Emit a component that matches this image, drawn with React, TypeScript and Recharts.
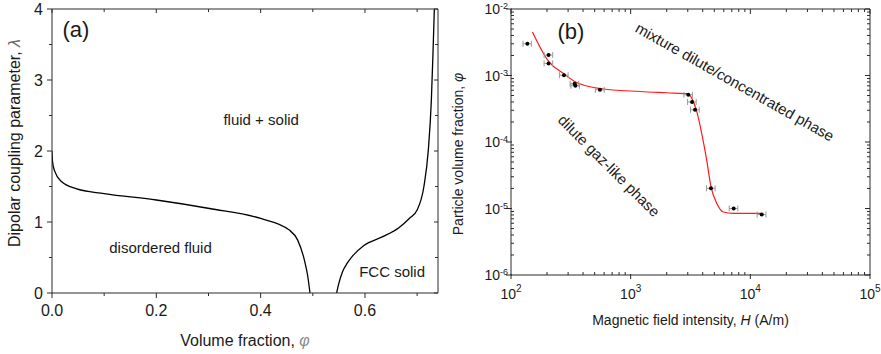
import React from 'react';
import {LineChart, Line, ComposedChart, Scatter, ErrorBar, XAxis, YAxis, ReferenceDot, Label} from 'recharts';

const FONT = '"Liberation Sans", Arial, sans-serif';
const INK = '#1a1a1a';
const AXIS = '#2b2b2b';

// ---- panel (a): phase diagram lambda vs volume fraction ----
const freezePhi = [0, 0.001, 0.005, 0.018, 0.046, 0.1, 0.2, 0.302, 0.4, 0.455, 0.471, 0.484, 0.49, 0.4946];
const freezeLam = [2.0, 1.85, 1.72, 1.57, 1.47, 1.4, 1.31, 1.19, 1.05, 0.886, 0.745, 0.46, 0.25, 0];
const meltPhi = [0.5456, 0.55, 0.557, 0.566, 0.576, 0.598, 0.633, 0.665, 0.685, 0.7, 0.713, 0.7215, 0.7273, 0.7305, 0.733];
const meltLam = [0, 0.14, 0.3, 0.42, 0.52, 0.67, 0.79, 0.92, 1.05, 1.17, 1.5, 2.02, 2.72, 3.4, 4.0];
const phiTicksA = [0, 0.1, 0.2, 0.3, 0.4, 0.5, 0.6, 0.7];
const phiLabelsA = ['0.0', '', '0.2', '', '0.4', '', '0.6', ''];
const lamTicksA = [0, 0.5, 1, 1.5, 2, 2.5, 3, 3.5, 4];
const lamLabelsA = ['0', '', '1', '', '2', '', '3', '', '4'];

// ---- panel (b): particle volume fraction vs field ----
const hMeas = [137, 206, 206, 277, 340, 345, 554, 3033, 3258, 3451, 4690, 7258, 12450];
const phiMeas = [3.0e-3, 2.03e-3, 1.52e-3, 1.01e-3, 7.5e-4, 7.0e-4, 6.1e-4, 5.13e-4, 4.0e-4, 3.05e-4, 2.01e-5, 1.0e-5, 8.1e-6];
const hErr = [11, 17, 17, 23, 28, 28, 47, 250, 270, 290, 390, 600, 1050];
const fitH = [151, 206, 277, 340, 554, 1197, 2000, 3033, 3236, 3565, 3918, 4315, 4690, 5236, 5948, 7190, 12450];
const fitPhi = [4.5e-3, 1.63e-3, 1.06e-3, 8.15e-4, 6.38e-4, 5.75e-4, 5.5e-4, 5.31e-4, 4.57e-4, 2.88e-4, 1.36e-4, 5.4e-5, 2.13e-5, 1.2e-5, 8.87e-6, 8.47e-6, 8.47e-6];
const hDecades = [100, 1000, 10000, 100000];
const hDecadeLabels = ['2', '3', '4', '5'];
const phiDecades = [1e-6, 1e-5, 1e-4, 1e-3, 1e-2];
const phiDecadeLabels = ['-6', '-5', '-4', '-3', '-2'];

const freezeData = freezePhi.map((phi, i) => ({phi, lam: freezeLam[i]}));
const meltData = meltPhi.map((phi, i) => ({phi, lam: meltLam[i]}));
const measData = hMeas.map((h, i) => ({h, phi: phiMeas[i], err: hErr[i]}));
const fitData = fitH.map((h, i) => ({h, phi: fitPhi[i]}));

const withMinors = (decades: number[]) => {
    const out: number[] = [];
    decades.forEach((d, i) => {
        out.push(d);
        if (i < decades.length - 1) for (let m = 2; m <= 9; m++) out.push(d * m);
    });
    return out;
};
const hTicksB = withMinors(hDecades);
const phiTicksB = withMinors(phiDecades);
const decadeIdx = (list: number[], v: number) => list.findIndex(d => Math.abs(d - v) / d < 1e-6);

// all axes use tickSize 4 + tickMargin 2, so the axis line is 6px from the tick anchor
const OFF = 6;
const axisProps = {tickSize: 4, tickMargin: 2, tickLine: false, axisLine: {stroke: AXIS}, interval: 0 as const, allowDataOverflow: true};

// ---- panel (a) ticks ----
const BottomTickA = ({x, y, payload}: any) => {
    const i = phiTicksA.indexOf(payload.value);
    const ay = y - OFF;
    const major = phiLabelsA[i] !== '';
    return (
        <g>
            <line x1={x} x2={x} y1={ay} y2={ay + (major ? 5 : 3)} stroke={AXIS}/>
            {major && <text x={x} y={ay + 23} textAnchor="middle" fontSize={16} fill={INK} fontFamily={FONT}>{phiLabelsA[i]}</text>}
        </g>
    );
};
const LeftTickA = ({x, y, payload}: any) => {
    const i = lamTicksA.indexOf(payload.value);
    const ax = x + OFF;
    const major = lamLabelsA[i] !== '';
    return (
        <g>
            <line x1={ax - (major ? 5 : 3)} x2={ax} y1={y} y2={y} stroke={AXIS}/>
            {major && <text x={ax - 9} y={y + 6} textAnchor="end" fontSize={16} fill={INK} fontFamily={FONT}>{lamLabelsA[i]}</text>}
        </g>
    );
};
const TopTickA = ({x, y, payload}: any) => {
    const major = phiLabelsA[phiTicksA.indexOf(payload.value)] !== '';
    const ay = y + OFF;
    return <line x1={x} x2={x} y1={ay} y2={ay + (major ? 4 : 3)} stroke={AXIS}/>;
};
const RightTickA = ({x, y, payload}: any) => {
    const major = lamLabelsA[lamTicksA.indexOf(payload.value)] !== '';
    const ax = x - OFF;
    return <line x1={ax - (major ? 4 : 3)} x2={ax} y1={y} y2={y} stroke={AXIS}/>;
};

// ---- panel (b) ticks ----
const BottomTickB = ({x, y, payload}: any) => {
    const i = decadeIdx(hDecades, payload.value);
    const ay = y - OFF;
    if (i < 0) return <line x1={x} x2={x} y1={ay - 3} y2={ay} stroke={AXIS}/>;
    return (
        <g>
            <line x1={x} x2={x} y1={ay - 1} y2={ay + 4} stroke={AXIS}/>
            <text x={x} y={ay + 24} textAnchor="middle" fontSize={14} fill={INK} fontFamily={FONT}>
                10<tspan dy={-7} fontSize={10}>{hDecadeLabels[i]}</tspan>
            </text>
        </g>
    );
};
const LeftTickB = ({x, y, payload}: any) => {
    const i = decadeIdx(phiDecades, payload.value);
    const ax = x + OFF;
    if (i < 0) return <line x1={ax} x2={ax + 3} y1={y} y2={y} stroke={AXIS}/>;
    return (
        <g>
            <line x1={ax - 5} x2={ax + 1} y1={y} y2={y} stroke={AXIS}/>
            <text x={ax - 3} y={y + 5} textAnchor="end" fontSize={14} fill={INK} fontFamily={FONT}>
                10<tspan dy={-5} fontSize={9}>{phiDecadeLabels[i]}</tspan>
            </text>
        </g>
    );
};
const TopTickB = ({x, y, payload}: any) => {
    const major = decadeIdx(hDecades, payload.value) >= 0;
    const ay = y + OFF;
    return <line x1={x} x2={x} y1={ay} y2={ay + (major ? 5 : 3)} stroke={AXIS}/>;
};
const RightTickB = ({x, y, payload}: any) => {
    const major = decadeIdx(phiDecades, payload.value) >= 0;
    const ax = x - OFF;
    return <line x1={ax - (major ? 5 : 3)} x2={ax} y1={y} y2={y} stroke={AXIS}/>;
};

const note = (text: string, size = 15, angle = 0) => (
    <Label value={text} position="center" angle={angle} fontSize={size} fill={INK} fontFamily={FONT}/>
);

function PanelA() {
    return (
        <LineChart width={458} height={365} margin={{top: 0, right: 0, bottom: 0, left: 0}}>
            <XAxis type="number" dataKey="phi" domain={[0, 0.74]} ticks={phiTicksA} height={61} {...axisProps}
                   tick={(p: any) => <BottomTickA {...p}/>}>
                <Label content={({viewBox}: any) => (
                    <text x={viewBox.x + viewBox.width / 2} y={viewBox.y + 53} textAnchor="middle" fontSize={16} fill={INK} fontFamily={FONT}>
                        Volume fraction,  <tspan fontStyle="italic" fill="#888">φ</tspan>
                    </text>
                )}/>
            </XAxis>
            <XAxis xAxisId="top" orientation="top" type="number" dataKey="phi" domain={[0, 0.74]} ticks={phiTicksA} height={20}
                   {...axisProps} tick={(p: any) => <TopTickA {...p}/>}/>
            <YAxis type="number" domain={[0, 4]} ticks={lamTicksA} width={52} {...axisProps}
                   tick={(p: any) => <LeftTickA {...p}/>}>
                <Label content={({viewBox}: any) => {
                    const cx = viewBox.x + 14;
                    const cy = viewBox.y + 134;
                    return (
                        <text x={cx} y={cy} transform={`rotate(-90, ${cx}, ${cy})`} textAnchor="middle" dominantBaseline="central"
                              fontSize={16} fill={INK} fontFamily={FONT}>
                            Dipolar coupling parameter,  <tspan fontStyle="italic" fill="#666">λ</tspan>
                        </text>
                    );
                }}/>
            </YAxis>
            <YAxis yAxisId="right" orientation="right" type="number" domain={[0, 4]} ticks={lamTicksA} width={20}
                   {...axisProps} tick={(p: any) => <RightTickA {...p}/>}/>
            <Line data={freezeData} dataKey="lam" type="monotone" stroke="#000" strokeWidth={1.3} dot={false} isAnimationActive={false}/>
            <Line data={meltData} dataKey="lam" xAxisId="top" yAxisId="right" type="monotone" stroke="#000" strokeWidth={1.3}
                  dot={false} isAnimationActive={false}/>
            <ReferenceDot x={0.046} y={3.71} r={1} fill="none" stroke="none" label={note('(a)', 22)}/>
            <ReferenceDot x={0.401} y={2.44} r={1} fill="none" stroke="none" label={note('fluid + solid')}/>
            <ReferenceDot x={0.208} y={0.645} r={1} fill="none" stroke="none" label={note('disordered fluid')}/>
            <ReferenceDot x={0.652} y={0.306} r={1} fill="none" stroke="none" label={note('FCC solid')}/>
        </LineChart>
    );
}

function PanelB() {
    return (
        <ComposedChart width={445} height={365} margin={{top: 0, right: 0, bottom: 0, left: 0}}>
            <XAxis type="number" dataKey="h" scale="log" domain={[100, 100000]} ticks={hTicksB} height={79} {...axisProps}
                   tick={(p: any) => <BottomTickB {...p}/>}>
                <Label content={({viewBox}: any) => (
                    <text x={viewBox.x + viewBox.width / 2} y={viewBox.y + 50} textAnchor="middle" fontSize={14} fill={INK} fontFamily={FONT}>
                        Magnetic field intensity, <tspan fontStyle="italic">H</tspan>  (A/m)
                    </text>
                )}/>
            </XAxis>
            <XAxis xAxisId="top" orientation="top" type="number" dataKey="h" scale="log" domain={[100, 100000]} ticks={hTicksB}
                   height={20} {...axisProps} tick={(p: any) => <TopTickB {...p}/>}/>
            <YAxis type="number" dataKey="phi" scale="log" domain={[1e-6, 1e-2]} ticks={phiTicksB} width={66} {...axisProps}
                   tick={(p: any) => <LeftTickB {...p}/>}>
                <Label content={({viewBox}: any) => {
                    const cx = viewBox.x + 13;
                    const cy = viewBox.y + 145;
                    return (
                        <text x={cx} y={cy} transform={`rotate(-90, ${cx}, ${cy})`} textAnchor="middle" dominantBaseline="central"
                              fontSize={14} fill={INK} fontFamily={FONT}>
                            Particle volume fraction,  <tspan fontStyle="italic">φ</tspan>
                        </text>
                    );
                }}/>
            </YAxis>
            <YAxis yAxisId="right" orientation="right" type="number" dataKey="phi" scale="log" domain={[1e-6, 1e-2]} ticks={phiTicksB}
                   width={20} {...axisProps} tick={(p: any) => <RightTickB {...p}/>}/>
            <Line data={fitData} dataKey="phi" xAxisId="top" yAxisId="right" type="monotone" stroke="#ff1a1a" strokeWidth={1.2}
                  dot={false} isAnimationActive={false}/>
            <Scatter data={measData} dataKey="phi" isAnimationActive={false}
                     shape={(p: any) => <circle cx={p.cx} cy={p.cy} r={2} fill="#000"/>}>
                <ErrorBar dataKey="err" direction="x" width={3} stroke="#9a9a9a" strokeWidth={1} isAnimationActive={false}/>
            </Scatter>
            <ReferenceDot x={317} y={4.7e-3} r={1} fill="none" stroke="none" label={note('(b)', 22)}/>
            <ReferenceDot x={7430} y={8.0e-4} r={1} fill="none" stroke="none" label={note('mixture dilute/concentrated phase', 15, 29.4)}/>
            <ReferenceDot x={659} y={4.4e-5} r={1} fill="none" stroke="none" label={note('dilute gaz-like phase', 15, 45)}/>
        </ComposedChart>
    );
}

export default function App() {
    return (
        <div style={{position: 'absolute', left: 0, top: 0, width: 881, height: 354, overflow: 'hidden', background: '#fff', fontFamily: FONT}}>
            <div style={{position: 'absolute', left: 0, top: -11}}>
                <PanelA/>
            </div>
            <div style={{position: 'absolute', left: 445, top: -11}}>
                <PanelB/>
            </div>
        </div>
    );
}
